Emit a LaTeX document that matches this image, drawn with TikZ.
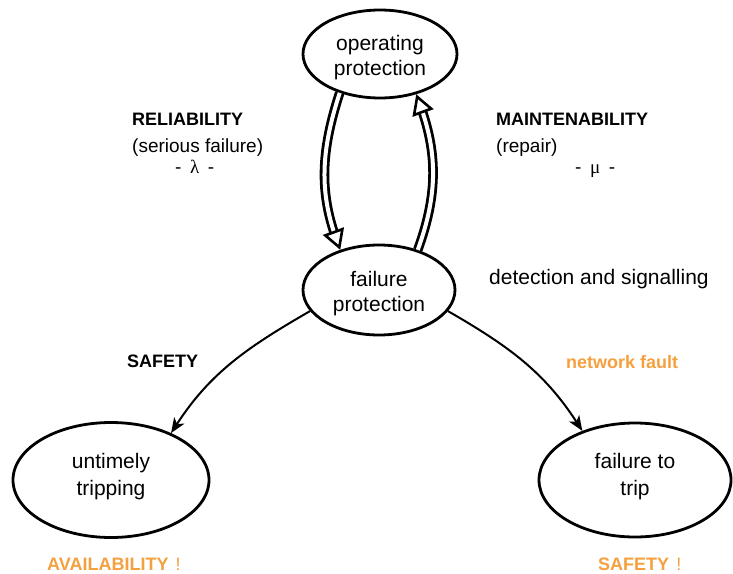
\documentclass[tikz,border=0pt]{standalone}
\usepackage{fontspec}
\setmainfont{Liberation Sans}
\newfontfamily\greekserif{Liberation Serif}
\usetikzlibrary{shapes.geometric,arrows.meta,calc}
\definecolor{warnorange}{RGB}{245,160,62}
\begin{document}
\begin{tikzpicture}[x=1pt,y=1pt,
  state/.style={ellipse, draw, line width=2.8pt, inner sep=0pt, align=center,
    font=\fontsize{21}{25}\selectfont},
  lowstate/.style={state, font=\fontsize{21}{27}\selectfont, text depth=12pt},
  lbl/.style={anchor=base west, inner sep=0pt, font=\fontsize{19}{22}\selectfont},
  blbl/.style={anchor=base west, inner sep=0pt, font=\fontsize{18}{21}\selectfont\bfseries},
  olbl/.style={anchor=base west, inner sep=0pt, text=warnorange, font=\fontsize{18}{21}\selectfont\bfseries},
  flow/.style={line width=2pt, -{Stealth[length=15pt,width=12pt,inset=4pt]}},
  dbl/.style={double, double distance=4pt, line width=2.8pt, shorten >=10pt},
  dblhead/.style={line width=2.6pt, -{Triangle[length=20pt,width=22pt,fill=white]}}]
\useasboundingbox (0,0) rectangle (733,-573);

% states
\node[state, minimum width=154pt, minimum height=88pt, text height=47pt] (op) at (380,-54) {operating\\protection};
\node[state, minimum width=152pt, minimum height=90pt, text height=47pt] (fp) at (379,-290) {failure\\protection};
\node[lowstate, minimum width=196pt, minimum height=115pt] (ut) at (111,-480) {untimely\\tripping};
\node[lowstate, minimum width=192pt, minimum height=114pt] (ft) at (635,-480) {failure to\\trip};

% double arrows
\draw[dbl] (op.224) to[out=252,in=110] (fp.134);
\draw[dblhead] ($(fp.134)+(110:3)$) -- (fp.134);
\draw[dbl] (fp.46) to[out=70,in=290] (op.312);
\draw[dblhead] ($(op.312)+(290:3)$) -- (op.312);

% single arrows
\draw[flow] (fp.197) to[out=210,in=57] (ut.38);
\draw[flow] (fp.343) to[out=-30,in=123] (ft.137);

% labels
\node[blbl] (rel) at (132,-125) {RELIABILITY};
\node[lbl] (sf) at (132,-152) {(serious failure)};
\node[lbl] (lam) at (175,-173) {-\hspace{0.45em}{\greekserif λ}\hspace{0.45em}-};
\node[blbl] (mnt) at (496,-125) {MAINTENABILITY};
\node[lbl] (rep) at (496,-152) {(repair)};
\node[lbl] (mu) at (575,-173) {-\hspace{0.45em}{\greekserif μ}\hspace{0.45em}-};
\node[lbl, font=\fontsize{21}{25}\selectfont] (det) at (489,-284) {detection and signalling};
\node[blbl] (saf) at (127,-367) {SAFETY};
\node[olbl] (nf) at (566,-368) {network fault};
\node[olbl] (avl) at (47,-570) {AVAILABILITY\hspace{0.4em}{\mdseries !}};
\node[olbl] (saf2) at (598,-570) {SAFETY\hspace{0.4em}{\mdseries !}};
\end{tikzpicture}
\end{document}
